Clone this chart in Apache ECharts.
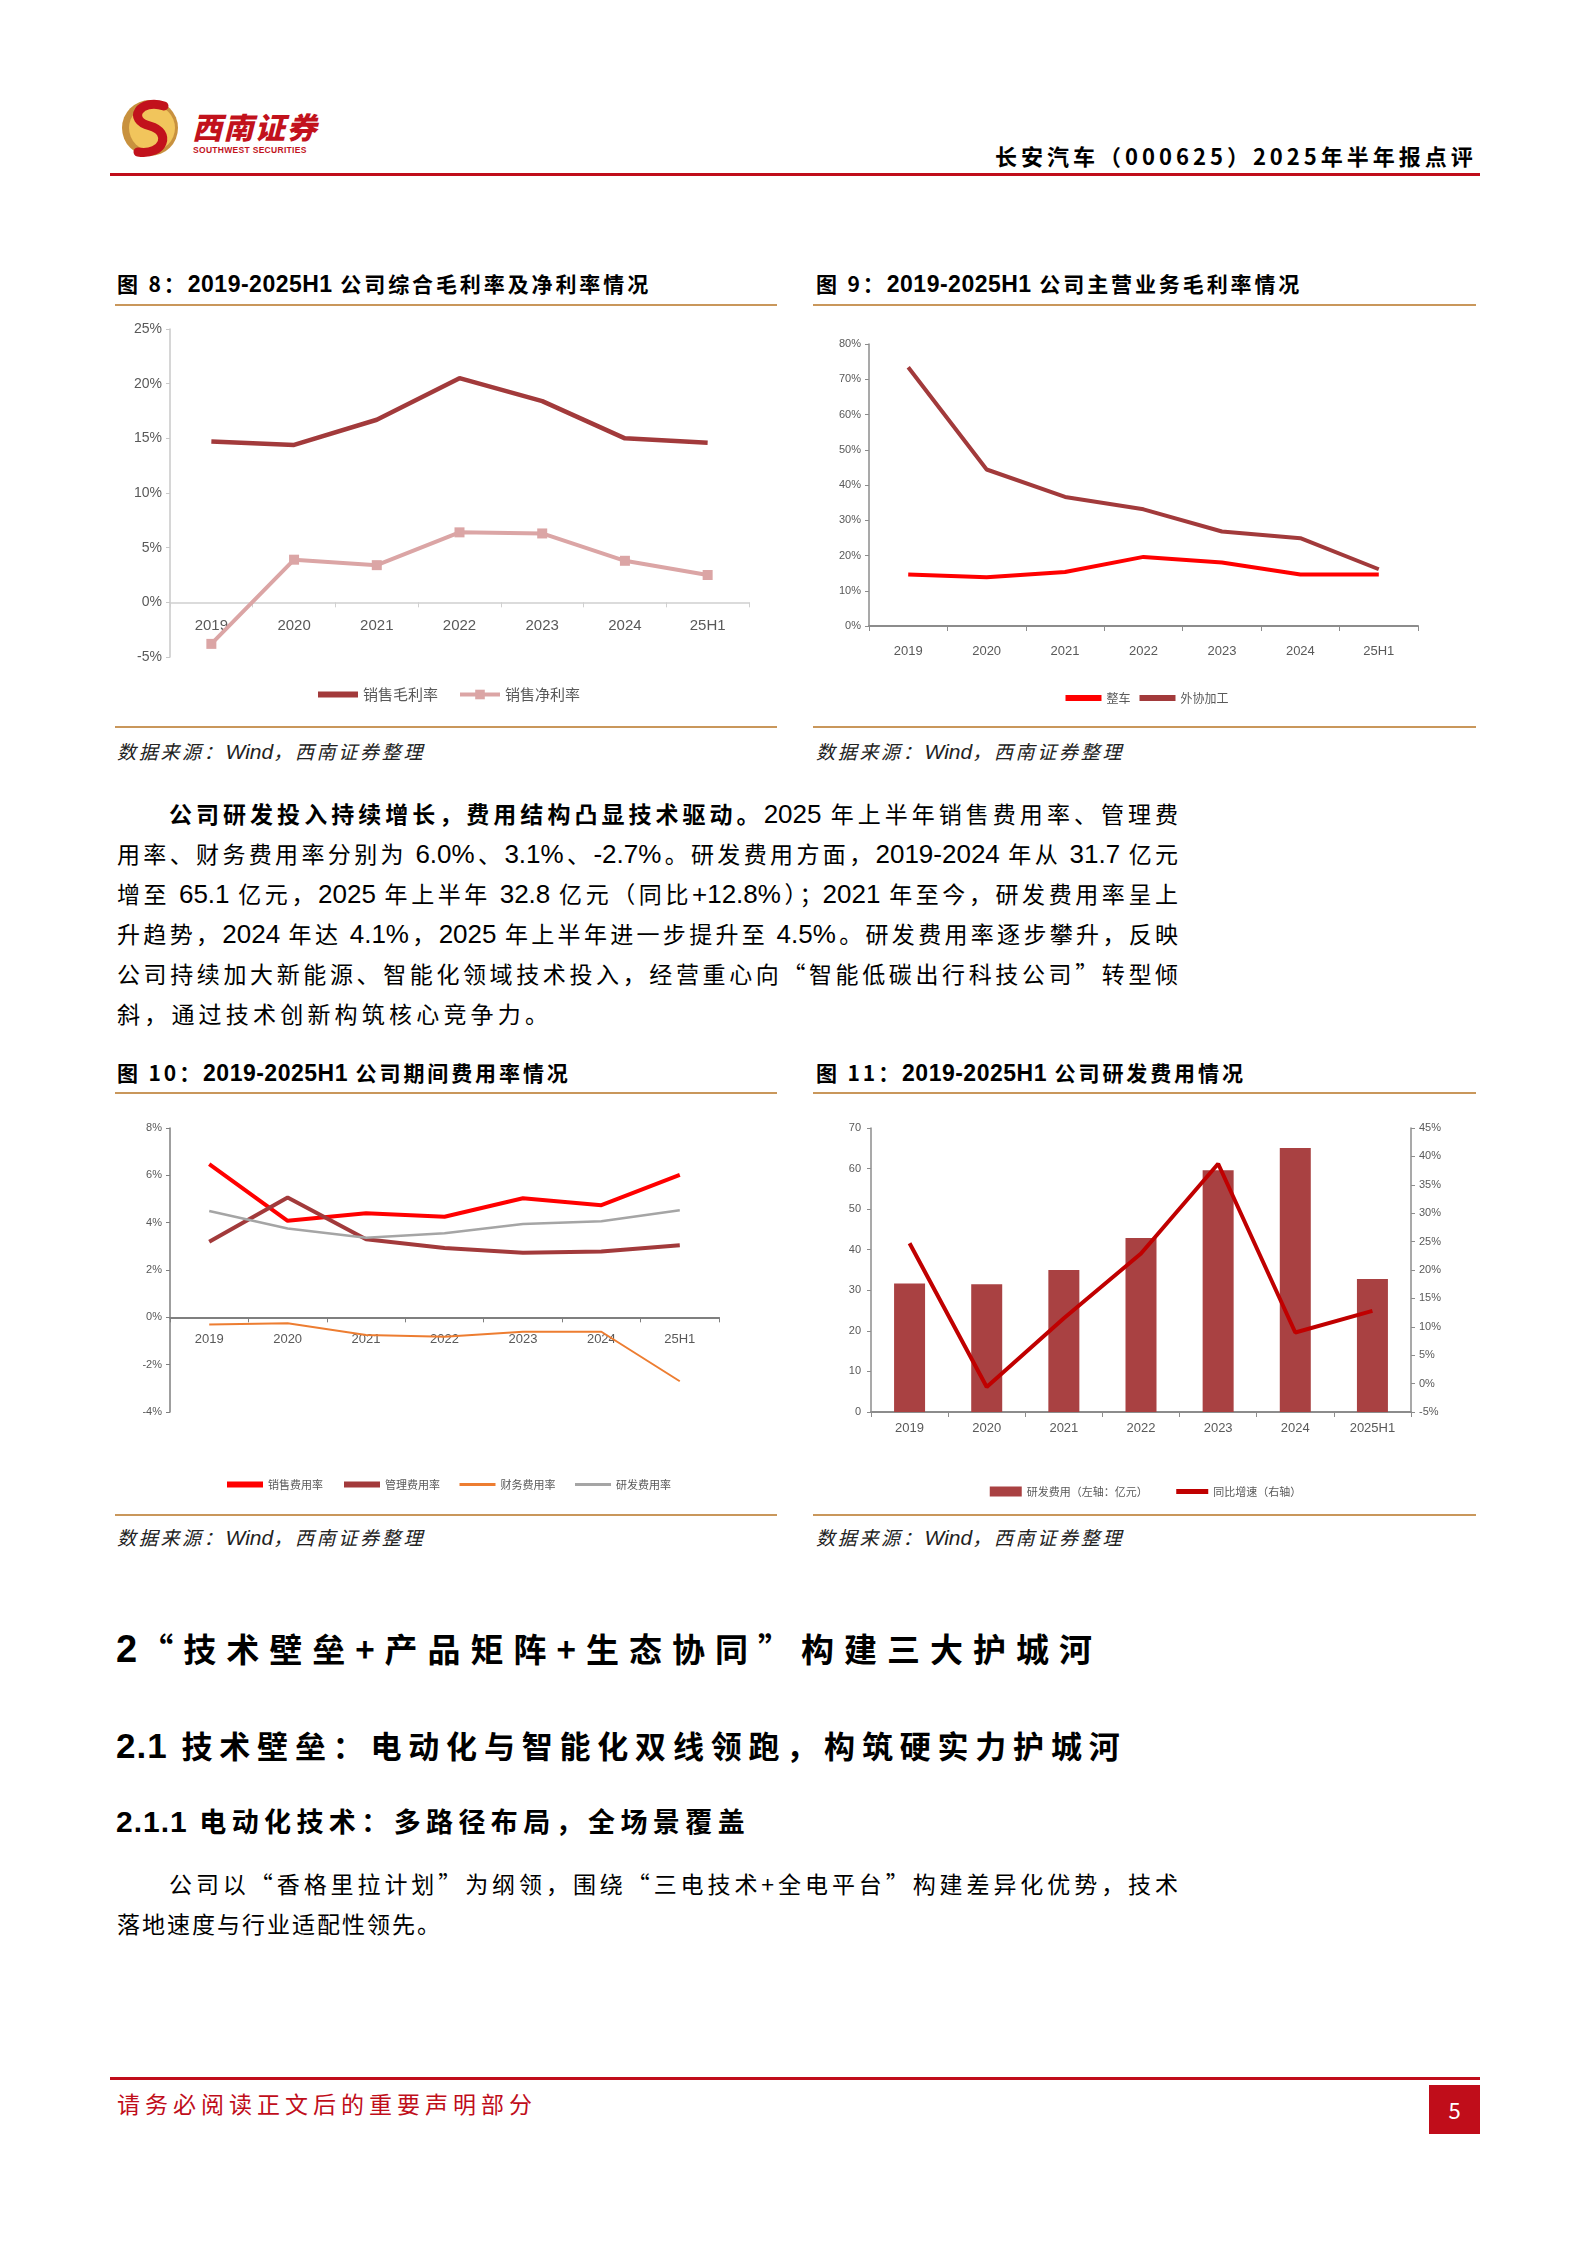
<!DOCTYPE html>
<html><head><meta charset="utf-8">
<script src="https://cdn.jsdelivr.net/npm/echarts@6/dist/echarts.min.js"></script>
<style>
html,body{margin:0;padding:0;background:#fff;}
body{width:1588px;height:2246px;position:relative;overflow:hidden;font-family:"Noto Sans CJK SC","Liberation Sans",sans-serif;color:#000;}
.a{position:absolute;white-space:nowrap;}
.gold{position:absolute;height:2px;background:#C9975B;}
.ttl{font-size:21px;font-weight:bold;letter-spacing:2.9px;}
.ttl .n{font-family:"Liberation Sans Narrow","Liberation Sans",sans-serif;letter-spacing:0.5px;font-size:23px;}
.src{font-size:19px;font-style:italic;letter-spacing:2.7px;color:#222;}
.src .w{font-family:"Liberation Sans Narrow","Liberation Sans",sans-serif;font-size:21px;letter-spacing:0;}
.para{position:absolute;left:117px;width:1061px;font-size:23px;line-height:40px;}
.ln{display:block;text-align:justify;text-align-last:justify;white-space:nowrap;height:40px;}
.num{font-family:"Liberation Sans Narrow","Liberation Sans",sans-serif;font-size:26px;}
.chart{position:absolute;width:665px;height:410px;}
</style></head>
<body>
<script>
// ---------- data ----------
const years = ['2019','2020','2021','2022','2023','2024','25H1'];
const years11 = ['2019','2020','2021','2022','2023','2024','2025H1'];
const grossMargin = [14.7,14.4,16.7,20.5,18.4,15.0,14.6];
const netMargin = [-3.8,3.9,3.4,6.4,6.3,3.8,2.5];
const vehicleGM = [14.6,13.8,15.3,19.6,18.0,14.6,14.6];
const outsourcingGM = [73.4,44.4,36.6,33.1,26.8,24.9,16.1];
const sellingRate = [6.47,4.08,4.40,4.25,5.03,4.74,6.02];
const adminRate = [3.19,5.06,3.30,2.93,2.73,2.78,3.05];
const financeRate = [-0.30,-0.25,-0.75,-0.82,-0.61,-0.61,-2.70];
const rdRate = [4.49,3.75,3.36,3.55,3.94,4.06,4.52];
const rdExpense = [31.7,31.5,35.0,42.9,59.6,65.1,32.8];
const rdGrowth = [24.7,-0.6,11.5,22.9,38.7,9.0,12.8];
</script>

<!-- header -->
<svg class="a" style="left:120px;top:96px" width="62" height="64" viewBox="0 0 62 64">
  <circle cx="30" cy="32" r="28" fill="#C8913E"/>
  <circle cx="32" cy="32" r="23" fill="#F1C55C"/>
  <path d="M44 10 C20 2, 6 24, 30 30 C52 36, 44 60, 18 56" fill="none" stroke="#C2121C" stroke-width="9" stroke-linecap="round"/>
</svg>
<div class="a" style="left:192px;top:104px;font-size:30px;font-weight:900;color:#C2121C;letter-spacing:1.5px;font-style:italic;">西南证券</div>
<div class="a" style="left:193px;top:145px;font-size:8.5px;font-weight:bold;color:#C2121C;letter-spacing:0.3px;font-family:'Liberation Sans Narrow','Liberation Sans',sans-serif;">SOUTHWEST SECURITIES</div>
<div class="a" style="left:995px;top:139px;font-size:22px;font-weight:bold;letter-spacing:4px;">长安汽车（000625）2025年半年报点评</div>
<div class="a" style="left:110px;top:173px;width:1370px;height:3px;background:#C00D1A;"></div>

<!-- titles row 1 -->
<div class="a ttl" style="left:117px;top:268px;">图 8：<span class="n">2019-2025H1</span> 公司综合毛利率及净利率情况</div>
<div class="a ttl" style="left:816px;top:268px;">图 9：<span class="n">2019-2025H1</span> 公司主营业务毛利率情况</div>
<div class="gold" style="left:115px;top:304px;width:662px;"></div>
<div class="gold" style="left:813px;top:304px;width:663px;"></div>
<div id="c8" class="chart" style="left:115px;top:310px;"></div>
<div id="c9" class="chart" style="left:813px;top:310px;"></div>
<div class="gold" style="left:115px;top:726px;width:662px;"></div>
<div class="gold" style="left:813px;top:726px;width:663px;"></div>
<div class="a src" style="left:117px;top:737px;">数据来源：<span class="w">Wind</span>，西南证券整理</div>
<div class="a src" style="left:816px;top:737px;">数据来源：<span class="w">Wind</span>，西南证券整理</div>

<!-- paragraph -->
<div class="para" style="top:793px;">
<span class="ln" style="padding-left:52px;width:1009px;"><b>公司研发投入持续增长，费用结构凸显技术驱动。</b><span class="num">2025</span> 年上半年销售费用率、管理费</span>
<span class="ln">用率、财务费用率分别为 <span class="num">6.0%</span>、<span class="num">3.1%</span>、<span class="num">-2.7%</span>。研发费用方面，<span class="num">2019-2024</span> 年从 <span class="num">31.7</span> 亿元</span>
<span class="ln">增至 <span class="num">65.1</span> 亿元，<span class="num">2025</span> 年上半年 <span class="num">32.8</span> 亿元（同比<span class="num">+12.8%</span>）；<span class="num">2021</span> 年至今，研发费用率呈上</span>
<span class="ln">升趋势，<span class="num">2024</span> 年达 <span class="num">4.1%</span>，<span class="num">2025</span> 年上半年进一步提升至 <span class="num">4.5%</span>。研发费用率逐步攀升，反映</span>
<span class="ln">公司持续加大新能源、智能化领域技术投入，经营重心向“智能低碳出行科技公司”转型倾</span>
<span class="ln" style="text-align:left;text-align-last:left;letter-spacing:4.2px;">斜，通过技术创新构筑核心竞争力。</span>
</div>

<!-- titles row 2 -->
<div class="a ttl" style="left:117px;top:1057px;">图 10：<span class="n">2019-2025H1</span> 公司期间费用率情况</div>
<div class="a ttl" style="left:816px;top:1057px;">图 11：<span class="n">2019-2025H1</span> 公司研发费用情况</div>
<div class="gold" style="left:115px;top:1092px;width:662px;"></div>
<div class="gold" style="left:813px;top:1092px;width:663px;"></div>
<div id="c10" class="chart" style="left:115px;top:1100px;"></div>
<div id="c11" class="chart" style="left:813px;top:1100px;"></div>
<div class="gold" style="left:115px;top:1514px;width:662px;"></div>
<div class="gold" style="left:813px;top:1514px;width:663px;"></div>
<div class="a src" style="left:117px;top:1523px;">数据来源：<span class="w">Wind</span>，西南证券整理</div>
<div class="a src" style="left:816px;top:1523px;">数据来源：<span class="w">Wind</span>，西南证券整理</div>

<!-- headings -->
<div class="a" style="left:116px;top:1624px;font-size:33px;font-weight:bold;letter-spacing:10px;"><span class="num" style="font-size:38px;font-weight:bold;letter-spacing:3px;">2</span>“技术壁垒+产品矩阵+生态协同”构建三大护城河</div>
<div class="a" style="left:116px;top:1722px;font-size:31px;font-weight:bold;letter-spacing:6.8px;"><span class="num" style="font-size:35px;font-weight:bold;letter-spacing:1px;">2.1</span> 技术壁垒：电动化与智能化双线领跑，构筑硬实力护城河</div>
<div class="a" style="left:116px;top:1801px;font-size:27px;font-weight:bold;letter-spacing:5.4px;"><span class="num" style="font-size:30px;font-weight:bold;letter-spacing:1px;">2.1.1</span> 电动化技术：多路径布局，全场景覆盖</div>
<div class="para" style="top:1863px;">
<span class="ln" style="padding-left:52px;width:1009px;">公司以“香格里拉计划”为纲领，围绕“三电技术+全电平台”构建差异化优势，技术</span>
<span class="ln" style="text-align:left;text-align-last:left;letter-spacing:2px;">落地速度与行业适配性领先。</span>
</div>

<!-- footer -->
<div class="a" style="left:110px;top:2077px;width:1370px;height:3px;background:#C00D1A;"></div>
<div class="a" style="left:117px;top:2086px;font-size:23px;letter-spacing:5px;color:#C00D1A;">请务必阅读正文后的重要声明部分</div>
<div class="a" style="left:1429px;top:2085px;width:51px;height:49px;background:#C00D1A;color:#fff;font-size:22px;line-height:49px;text-align:center;">5</div>

<script>
const NUM = "'Liberation Sans Narrow','Liberation Sans',sans-serif";
const CJK = "'Noto Sans CJK SC',sans-serif";
const GRAY = '#595959';
const HIDE = {opacity: 0};
function pctAxis(min, max, interval, size, lineColor, extra) {
  return Object.assign({
    type: 'value', min: min, max: max, interval: interval,
    axisLine: {show: true, lineStyle: {color: lineColor, width: 1.5}},
    axisTick: {show: true, length: 4, lineStyle: {color: lineColor}},
    splitLine: {show: false},
    axisLabel: {formatter: '{value}%', color: GRAY, fontSize: size, fontFamily: NUM, margin: 8}
  }, extra || {});
}
function catAxis(data, size, lineColor, margin, lw) {
  return {
    type: 'category', data: data, boundaryGap: true,
    axisLine: {show: true, onZero: true, lineStyle: {color: lineColor, width: lw || 1.5}},
    axisTick: {show: true, length: 5, lineStyle: {color: lineColor}},
    axisLabel: {color: GRAY, fontSize: size, fontFamily: NUM, margin: margin}
  };
}
// label-only axis placed at the zero line (offset upward from the grid bottom)
function labelAxis(data, size, margin, offset) {
  return {
    type: 'category', data: data, boundaryGap: true, position: 'bottom', offset: offset,
    axisLine: {show: false}, axisTick: {show: false},
    axisLabel: {color: GRAY, fontSize: size, fontFamily: NUM, margin: margin}
  };
}

// ---- chart 8 ----
const c8 = echarts.init(document.getElementById('c8'));
const ax8 = catAxis(years, 15, '#D0D0D0', 12);
ax8.axisLabel.show = false;
c8.setOption({
  animation: false,
  grid: {left: 55, top: 19, width: 579, height: 328},
  xAxis: [ax8, labelAxis(years, 15, 16, -328 * 5 / 30)],
  yAxis: pctAxis(-5, 25, 5, 14, '#C8C8C8'),
  legend: {left: 'center', top: 372, itemWidth: 40, itemHeight: 12, itemGap: 20,
    textStyle: {color: GRAY, fontSize: 15, fontFamily: CJK},
    data: [{name: '销售毛利率', itemStyle: HIDE, lineStyle: {width: 6}},
           {name: '销售净利率', lineStyle: {width: 4}}]},
  series: [
    {name: '销售毛利率', type: 'line', data: grossMargin, symbol: 'none',
     lineStyle: {color: '#A23A3B', width: 4.5}, itemStyle: {color: '#A23A3B'}},
    {name: '销售净利率', type: 'line', data: netMargin, symbol: 'rect', symbolSize: 10,
     lineStyle: {color: '#DBA5A5', width: 4}, itemStyle: {color: '#DBA5A5'}}
  ]
});

// ---- chart 9 ----
const c9 = echarts.init(document.getElementById('c9'));
c9.setOption({
  animation: false,
  grid: {left: 56, top: 34, width: 549, height: 282},
  xAxis: catAxis(years, 13, '#8C8C8C', 19, 2),
  yAxis: pctAxis(0, 80, 10, 11, '#8C8C8C'),
  legend: {left: 'center', top: 377, itemWidth: 36, itemHeight: 12, itemGap: 6,
    textStyle: {color: GRAY, fontSize: 12, fontFamily: CJK},
    data: [{name: '整车', itemStyle: HIDE, lineStyle: {width: 6}},
           {name: '外协加工', itemStyle: HIDE, lineStyle: {width: 6}}]},
  series: [
    {name: '整车', type: 'line', data: vehicleGM, symbol: 'none',
     lineStyle: {color: '#FF0000', width: 4}, itemStyle: {color: '#FF0000'}},
    {name: '外协加工', type: 'line', data: outsourcingGM, symbol: 'none',
     lineStyle: {color: '#A23A3B', width: 4}, itemStyle: {color: '#A23A3B'}}
  ]
});

// ---- chart 10 ----
const c10 = echarts.init(document.getElementById('c10'));
const ax10 = catAxis(years, 13, '#7F7F7F', 9, 2);
ax10.axisLabel.show = false;
c10.setOption({
  animation: false,
  grid: {left: 55, top: 28, width: 549, height: 284},
  xAxis: [ax10, labelAxis(years, 13, 16, -284 * 4 / 12)],
  yAxis: pctAxis(-4, 8, 2, 11, '#7F7F7F'),
  legend: {left: 'center', top: 374, itemWidth: 36, itemHeight: 12, itemGap: 18,
    textStyle: {color: GRAY, fontSize: 11, fontFamily: CJK},
    data: [{name: '销售费用率', itemStyle: HIDE, lineStyle: {width: 6}},
           {name: '管理费用率', itemStyle: HIDE, lineStyle: {width: 6}},
           {name: '财务费用率', itemStyle: HIDE, lineStyle: {width: 3}},
           {name: '研发费用率', itemStyle: HIDE, lineStyle: {width: 3}}]},
  series: [
    {name: '销售费用率', type: 'line', data: sellingRate, symbol: 'none',
     lineStyle: {color: '#FF0000', width: 4}, itemStyle: {color: '#FF0000'}},
    {name: '管理费用率', type: 'line', data: adminRate, symbol: 'none',
     lineStyle: {color: '#A23A3B', width: 4}, itemStyle: {color: '#A23A3B'}},
    {name: '财务费用率', type: 'line', data: financeRate, symbol: 'none',
     lineStyle: {color: '#ED7D31', width: 2}, itemStyle: {color: '#ED7D31'}},
    {name: '研发费用率', type: 'line', data: rdRate, symbol: 'none',
     lineStyle: {color: '#A5A5A5', width: 2.5}, itemStyle: {color: '#A5A5A5'}}
  ]
});

// ---- chart 11 ----
const c11 = echarts.init(document.getElementById('c11'));
c11.setOption({
  animation: false,
  grid: {left: 58, top: 28, width: 540, height: 284},
  xAxis: catAxis(years11, 13, '#8C8C8C', 10, 2),
  yAxis: [
    {type: 'value', min: 0, max: 70, interval: 10,
     axisLine: {show: true, lineStyle: {color: '#8C8C8C', width: 1.5}},
     axisTick: {show: true, length: 4, lineStyle: {color: '#8C8C8C'}},
     splitLine: {show: false},
     axisLabel: {color: GRAY, fontSize: 11, fontFamily: NUM, margin: 10}},
    pctAxis(-5, 45, 5, 11, '#8C8C8C', {position: 'right'})
  ],
  legend: {left: 'center', top: 381, itemWidth: 32, itemHeight: 10, itemGap: 26,
    textStyle: {color: GRAY, fontSize: 11, fontFamily: CJK},
    data: [{name: '研发费用（左轴：亿元）', icon: 'rect'},
           {name: '同比增速（右轴）', itemStyle: HIDE, lineStyle: {width: 5}}]},
  series: [
    {name: '研发费用（左轴：亿元）', type: 'bar', data: rdExpense, barWidth: 31, yAxisIndex: 0,
     itemStyle: {color: '#A94142'}},
    {name: '同比增速（右轴）', type: 'line', data: rdGrowth, yAxisIndex: 1, symbol: 'none',
     lineStyle: {color: '#C00000', width: 4}, itemStyle: {color: '#C00000'}}
  ]
});
</script>
</body></html>
